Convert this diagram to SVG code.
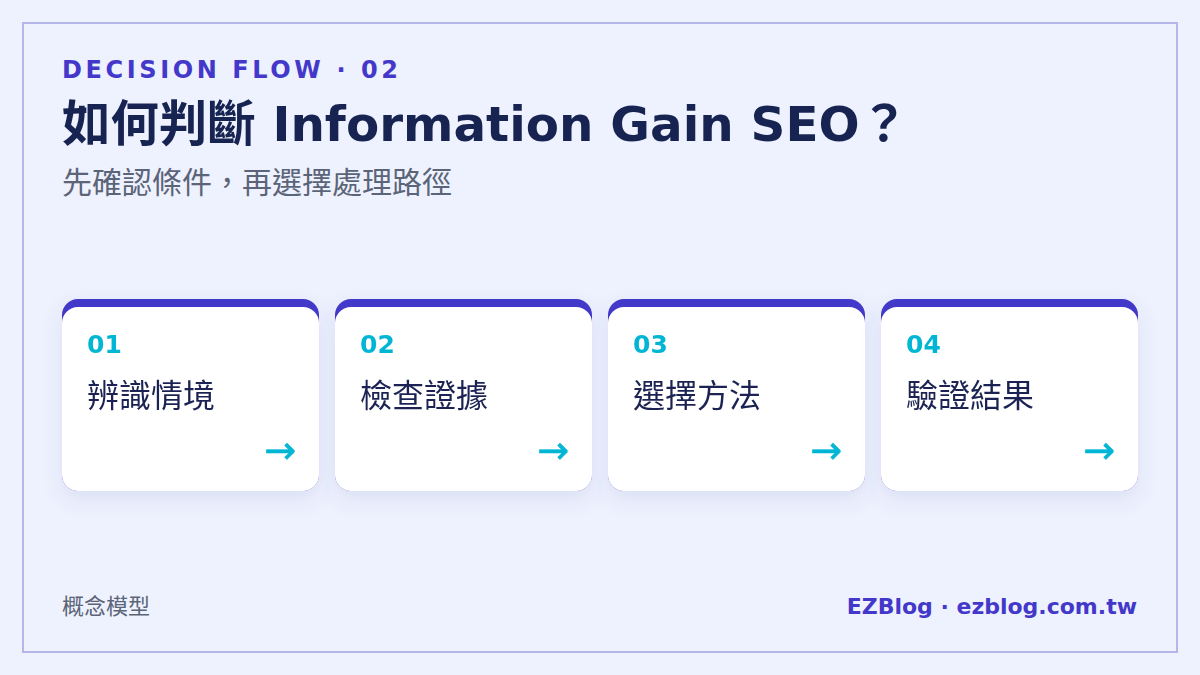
<svg xmlns="http://www.w3.org/2000/svg" width="1200" height="675" viewBox="0 0 1200 675">
<defs>
<filter id="sh" x="-20%" y="-20%" width="140%" height="150%">
<feDropShadow dx="0" dy="8" stdDeviation="10" flood-color="#4a55a8" flood-opacity="0.12"/>
</filter>
<style>
.lat{font-family:"DejaVu Sans","Noto Sans CJK TC",sans-serif}
.num{font-family:"DejaVu Sans",sans-serif;font-weight:bold;font-size:25px;fill:#06b6d4}
.lab{font-family:"Noto Sans CJK TC",sans-serif;font-size:32px;fill:#1a2352}
.arr{font-family:"DejaVu Sans",sans-serif;font-size:38px;fill:#06b6d4;stroke:#06b6d4;stroke-width:0.6}
.top{fill:#4338ca}
.body{fill:#ffffff}
</style>
</defs>
<rect x="0" y="0" width="1200" height="675" fill="#eef2fe"/>
<rect x="23" y="23" width="1154" height="629" fill="#eef2fe" stroke="#b4b6ea" stroke-width="2"/>
<text x="62" y="78" class="lat" font-weight="bold" font-size="24" letter-spacing="3.6" fill="#4338ca">DECISION FLOW · 02</text>
<text x="62" y="141" class="lat" font-weight="bold" font-size="48.4" fill="#172452">如何判斷 Information Gain SEO？</text>
<text x="62" y="193" font-family="Noto Sans CJK TC,sans-serif" font-size="30" fill="#5b6478">先確認條件，再選擇處理路徑</text>
<g id="connectors"></g>
<g id="node1" filter="url(#sh)">
<rect x="62" y="299" width="257" height="192" rx="16" class="top"/>
<rect x="62" y="307" width="257" height="184" rx="16" class="body"/>
<text x="87" y="353" class="num">01</text>
<text x="87" y="407" class="lab">辨識情境</text>
<text x="296" y="463" class="arr" text-anchor="end">→</text>
</g>
<g id="node2" filter="url(#sh)">
<rect x="335" y="299" width="257" height="192" rx="16" class="top"/>
<rect x="335" y="307" width="257" height="184" rx="16" class="body"/>
<text x="569" y="463" class="arr" text-anchor="end">→</text>
<text x="360" y="353" class="num">02</text>
<text x="360" y="407" class="lab">檢查證據</text>
</g>
<g id="node3" filter="url(#sh)">
<rect x="608" y="299" width="257" height="192" rx="16" class="top"/>
<rect x="608" y="307" width="257" height="184" rx="16" class="body"/>
<text x="633" y="353" class="num">03</text>
<text x="633" y="407" class="lab">選擇方法</text>
<text x="842" y="463" class="arr" text-anchor="end">→</text>
</g>
<g id="node4" filter="url(#sh)">
<rect x="881" y="299" width="257" height="192" rx="16" class="top"/>
<rect x="881" y="307" width="257" height="184" rx="16" class="body"/>
<text x="906" y="353" class="num">04</text>
<text x="906" y="407" class="lab">驗證結果</text>
<text x="1115" y="463" class="arr" text-anchor="end">→</text>
</g>
<text x="62" y="614" font-family="Noto Sans CJK TC,sans-serif" font-size="22" fill="#5b6478">概念模型</text>
<text x="1137" y="614" text-anchor="end" class="lat" font-weight="bold" font-size="22" fill="#4338ca">EZBlog · ezblog.com.tw</text>
</svg>
